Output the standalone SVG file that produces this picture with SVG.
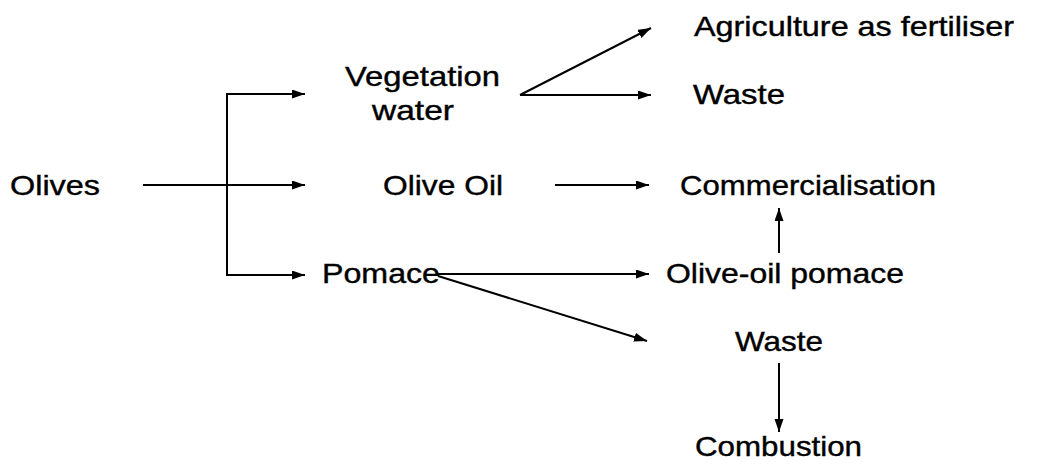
<svg xmlns="http://www.w3.org/2000/svg" width="1046" height="464" viewBox="0 0 1046 464">
  <style>
    .label { font-family: "Liberation Sans", Arial, sans-serif; font-size: 28px; fill: #000; stroke: #000; stroke-width: 0.4; }
    .link { stroke: #000; stroke-width: 2; fill: none; marker-end: url(#head); }
    .plain { stroke: #000; stroke-width: 2; fill: none; }
  </style>
  <defs>
    <marker id="head" markerUnits="userSpaceOnUse" markerWidth="14" markerHeight="10" refX="13" refY="4.5" orient="auto">
      <path d="M0,0 L13,4.5 L0,9 Z" fill="#000"/>
    </marker>
  </defs>
  <rect width="1046" height="464" fill="#fff"/>

  <!-- nodes -->
  <g id="olives"><text class="label" x="10" y="195" textLength="90" lengthAdjust="spacingAndGlyphs">Olives</text></g>
  <g id="vegetation-water">
    <text class="label" x="345" y="86" textLength="155" lengthAdjust="spacingAndGlyphs">Vegetation</text>
    <text class="label" x="372" y="120" textLength="82" lengthAdjust="spacingAndGlyphs">water</text>
  </g>
  <g id="olive-oil"><text class="label" x="383" y="195" textLength="120" lengthAdjust="spacingAndGlyphs">Olive Oil</text></g>
  <g id="pomace"><text class="label" x="322" y="283" textLength="118" lengthAdjust="spacingAndGlyphs">Pomace</text></g>
  <g id="agriculture"><text class="label" x="694" y="36" textLength="320" lengthAdjust="spacingAndGlyphs">Agriculture as fertiliser</text></g>
  <g id="waste-water"><text class="label" x="693" y="104" textLength="92" lengthAdjust="spacingAndGlyphs">Waste</text></g>
  <g id="commercialisation"><text class="label" x="680" y="195" textLength="256" lengthAdjust="spacingAndGlyphs">Commercialisation</text></g>
  <g id="olive-oil-pomace"><text class="label" x="666" y="283" textLength="238" lengthAdjust="spacingAndGlyphs">Olive-oil pomace</text></g>
  <g id="waste-pomace"><text class="label" x="735" y="351" textLength="88" lengthAdjust="spacingAndGlyphs">Waste</text></g>
  <g id="combustion"><text class="label" x="695" y="456" textLength="167" lengthAdjust="spacingAndGlyphs">Combustion</text></g>

  <!-- connectors -->
  <g id="connectors">
    <line class="link" x1="143" y1="185" x2="305" y2="185"/>
    <line class="plain" x1="227" y1="93" x2="227" y2="276"/>
    <line class="link" x1="226" y1="94" x2="305" y2="94"/>
    <line class="link" x1="226" y1="275" x2="305" y2="275"/>
    <line class="link" x1="520" y1="95" x2="651" y2="28"/>
    <line class="link" x1="520" y1="95" x2="651" y2="95"/>
    <line class="link" x1="555" y1="185" x2="649" y2="185"/>
    <line class="link" x1="438" y1="274" x2="649" y2="274"/>
    <line class="link" x1="438" y1="276" x2="647" y2="341"/>
    <line class="link" x1="779" y1="253" x2="779" y2="208"/>
    <line class="link" x1="779" y1="363" x2="779" y2="432"/>
  </g>
</svg>
